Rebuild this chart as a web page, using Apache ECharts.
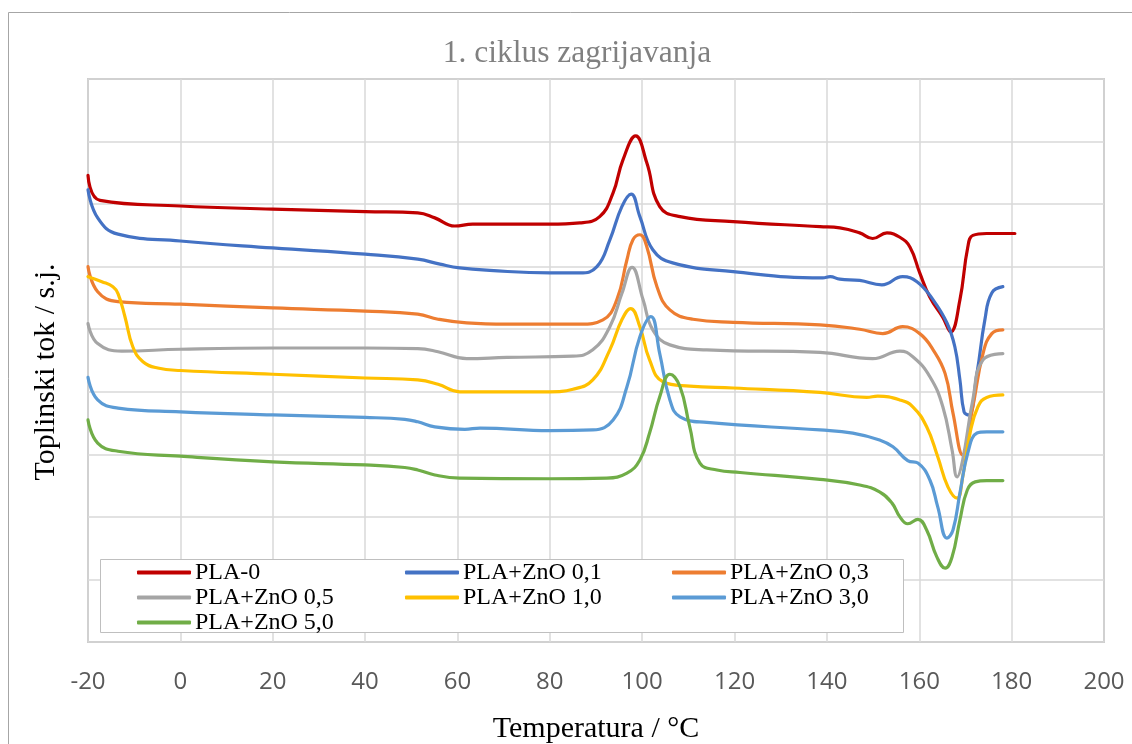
<!DOCTYPE html>
<html>
<head>
<meta charset="utf-8">
<script src="https://cdn.jsdelivr.net/npm/echarts@6/dist/echarts.min.js"></script>
<style>
html,body{margin:0;padding:0;background:#fff;}
#chart{width:1132px;height:744px;}
</style>
</head>
<body>
<div id="chart"></div>
<script>
// ---- data (temperature °C, heat flow in arbitrary units) ----
const seriesNames = ['PLA-0','PLA+ZnO 0,1','PLA+ZnO 0,3','PLA+ZnO 0,5','PLA+ZnO 1,0','PLA+ZnO 3,0','PLA+ZnO 5,0'];
const xTicks = [-20,0,20,40,60,80,100,120,140,160,180,200];

const pla0 = [[-20,74.6],[-17.4,70.6],[0,69.7],[20,69.2],[40,68.8],[51.4,68.6],[55.1,67.8],[59.4,66.5],[63.3,66.8],[80,66.8],[86.5,67.0],[90.8,68.0],[93.7,71.8],[95.8,77.0],[98.6,80.9],[101,76.6],[103.8,69.6],[108.2,68.0],[119.7,67.2],[138.5,66.4],[142.8,66.2],[147.1,65.4],[149.9,64.5],[153,65.4],[155.8,64.7],[158,63.1],[160.1,59.0],[162.3,55.1],[165.1,51.9],[166.8,49.6],[168.8,54.7],[170.5,63.1],[171.6,65.0],[174.6,65.3],[180.7,65.3]];

const zno01 = [[-20,72.3],[-17.9,67.8],[-13.5,65.2],[0,64.1],[20,63.0],[40,62.0],[51.4,61.2],[56.2,60.4],[60.5,59.8],[67,59.4],[80,59.0],[86.5,59.0],[90.2,60.0],[93,64.3],[95.6,69.6],[97.6,71.6],[99.5,68.0],[102.3,62.7],[106.6,60.6],[119.7,59.2],[139.1,58.2],[140.7,58.4],[142.8,58.0],[147.1,57.8],[151.9,57.1],[156.4,58.4],[159.5,57.6],[163,54.7],[166,51.0],[167.7,47.2],[168.8,41.9],[169.7,36.8],[170.7,36.3],[172.5,43.0],[174.2,51.5],[175.7,55.8],[178.1,56.8]];

const zno03 = [[-20,60.0],[-17.9,56.0],[-13.5,54.4],[0,54.0],[20,53.4],[40,52.9],[51.4,52.4],[55.8,51.6],[62,51.0],[70.7,50.8],[86.5,50.8],[91.5,51.5],[94.5,54.7],[96.7,61.1],[98,64.3],[99.5,65.1],[101,63.2],[103.2,56.8],[106,53.1],[111,51.6],[119.7,51.1],[138.5,50.7],[147.1,50.0],[152.1,49.3],[156.4,50.4],[160.1,49.3],[163,46.7],[165.6,42.9],[167.3,36.6],[169.4,29.9],[171.6,37.6],[173.8,46.1],[175.7,49.3],[178.1,49.9]];

const zno05 = [[-20,50.9],[-17.9,47.7],[-12.7,46.5],[0,46.8],[20,47.0],[40,47.0],[51.4,46.9],[55.8,46.4],[62,45.3],[70.7,45.5],[85,45.7],[89.3,46.7],[93,50.4],[95.6,55.7],[97.8,59.9],[100.2,54.7],[102.3,49.9],[106,47.5],[114,46.7],[138.5,46.3],[149.9,45.3],[155.8,46.5],[158.6,45.6],[162.3,42.4],[165.1,37.6],[167.1,30.7],[168.2,26.4],[169.4,29.1],[171.6,38.7],[173.8,45.1],[178.1,46.1]];

const zno10 = [[-20,58.4],[-17,57.6],[-14.6,56.8],[-13.5,55.7],[-12,52.0],[-10.3,47.2],[-8.1,44.8],[-4.9,43.8],[0,43.4],[20,42.8],[40,42.2],[51.4,41.9],[55.8,41.2],[60.5,40.0],[80,40.0],[85,40.4],[89.3,41.9],[93,46.7],[95.6,51.5],[97.5,53.3],[99.5,50.4],[101.6,45.1],[104.5,41.6],[110.3,40.9],[119.7,40.6],[138.5,39.9],[148.6,39.1],[151,39.3],[155.8,38.7],[158.6,37.6],[161.6,34.4],[164,29.6],[166.2,24.8],[168.2,23.0],[169.4,26.4],[171,33.4],[172.7,37.6],[174.6,39.1],[178.1,39.5]];

const zno30 = [[-20,42.3],[-17.9,38.7],[-13.5,37.4],[0,36.8],[20,36.3],[40,35.9],[48.6,35.6],[51.4,35.2],[55.1,34.4],[61.6,34.0],[64.9,34.2],[80,33.8],[89.3,33.9],[93.7,35.5],[96.7,40.8],[99.5,48.8],[101.9,52.0],[103.8,46.1],[106,38.7],[108.2,36.0],[114,35.1],[138.5,33.9],[145.6,33.4],[151.4,32.3],[154.3,31.2],[157.5,29.0],[159.7,28.6],[162.3,25.9],[164,21.6],[166,16.6],[167.3,17.9],[168.8,23.8],[170.5,30.2],[172.5,33.4],[174.6,33.6],[178.1,33.6]];

const zno50 = [[-20,35.5],[-17.9,31.8],[-13.5,30.5],[0,29.7],[20,28.8],[40,28.3],[48.6,27.9],[51.4,27.5],[55.1,26.7],[60.5,26.2],[80,26.1],[92.3,26.2],[96.7,27.0],[99.5,29.1],[101.6,33.4],[103.8,39.2],[106,42.8],[108.2,40.8],[110.3,34.4],[112.5,28.6],[116.2,27.5],[121.2,27.1],[138.5,26.0],[147.1,25.1],[151.4,24.0],[154.1,22.2],[155.8,20.0],[157.5,18.9],[159.7,19.6],[161.6,17.9],[163.8,13.6],[165.6,11.8],[167.1,13.6],[168.8,19.5],[170.4,24.3],[172.1,25.6],[174.6,25.8],[178.1,25.8]];

const seriesData = [pla0, zno01, zno03, zno05, zno10, zno30, zno50];
const colors = ['#C00000','#4472C4','#ED7D31','#A5A5A5','#FFC000','#5B9BD5','#70AD47'];

const serif = '"Liberation Serif", "Times New Roman", serif';

const chart = echarts.init(document.getElementById('chart'));

const legendCommon = {
  orient: 'vertical',
  icon: 'roundRect',
  itemWidth: 54,
  itemHeight: 4,
  itemGap: 0,
  padding: 0,
  selectedMode: false,
  textStyle: { fontFamily: serif, fontSize: 24, color: '#000', lineHeight: 25, padding: [0,0,0,-1] }
};

chart.setOption({
  animation: false,
  backgroundColor: '#fff',
  title: {
    text: '1. ciklus zagrijavanja',
    left: 572,
    top: 33,
    textAlign: 'center',
    textStyle: { fontFamily: serif, fontSize: 31.5, fontWeight: 'normal', color: '#808080' }
  },
  grid: {
    left: 88, top: 79, right: 28, bottom: 102,
    show: true, borderColor: '#a6a6a6', borderWidth: 1.5,
    containLabel: false,
    outerBoundsMode: 'none'
  },
  legend: [
    Object.assign({}, legendCommon, { left: 137, top: 560, data: [seriesNames[0], seriesNames[3], seriesNames[6]] }),
    Object.assign({}, legendCommon, { left: 405, top: 560, data: [seriesNames[1], seriesNames[4]] }),
    Object.assign({}, legendCommon, { left: 672, top: 560, data: [seriesNames[2], seriesNames[5]] })
  ],
  xAxis: {
    type: 'value',
    min: xTicks[0],
    max: xTicks[xTicks.length - 1],
    interval: 20,
    name: 'Temperatura / °C',
    nameLocation: 'middle',
    nameGap: 72,
    nameTextStyle: { fontFamily: serif, fontSize: 30, color: '#000' },
    axisLine: { show: false },
    axisTick: { show: false },
    axisLabel: { margin: 28, fontFamily: '"Open Sans", sans-serif', fontSize: 24, color: '#595959' },
    splitLine: { show: true, lineStyle: { color: '#d9d9d9', width: 1.5 } }
  },
  yAxis: {
    type: 'value',
    min: 0, max: 90, interval: 10,
    axisLine: { show: false },
    axisTick: { show: false },
    axisLabel: { show: false },
    splitLine: { show: true, lineStyle: { color: '#d9d9d9', width: 1.5 } }
  },
  graphic: [
    {
      type: 'rect', z: 100, silent: true,
      shape: { x: 8.5, y: 12.5, width: 1200, height: 800 },
      style: { fill: 'none', stroke: '#a6a6a6', lineWidth: 1 }
    },
    {
      type: 'rect', z: 3, silent: true,
      shape: { x: 100.5, y: 559.5, width: 803, height: 73 },
      style: { fill: '#fff', stroke: '#bfbfbf', lineWidth: 1 }
    },
    {
      type: 'text', z: 5, silent: true,
      x: 46, y: 372, rotation: Math.PI / 2,
      style: { text: 'Toplinski tok / s.j.', font: '30px ' + serif, fill: '#000', align: 'center', verticalAlign: 'middle', textAlign: 'center', textVerticalAlign: 'middle' }
    }
  ],
  series: seriesNames.map((n, i) => ({
    name: n,
    type: 'line',
    data: seriesData[i],
    smooth: 0.45,
    showSymbol: false,
    symbol: 'none',
    color: colors[i],
    lineStyle: { width: 3.2, color: colors[i], cap: 'round', join: 'round' },
    z: 2 + i * 0.01
  }))
});
</script>
</body>
</html>
